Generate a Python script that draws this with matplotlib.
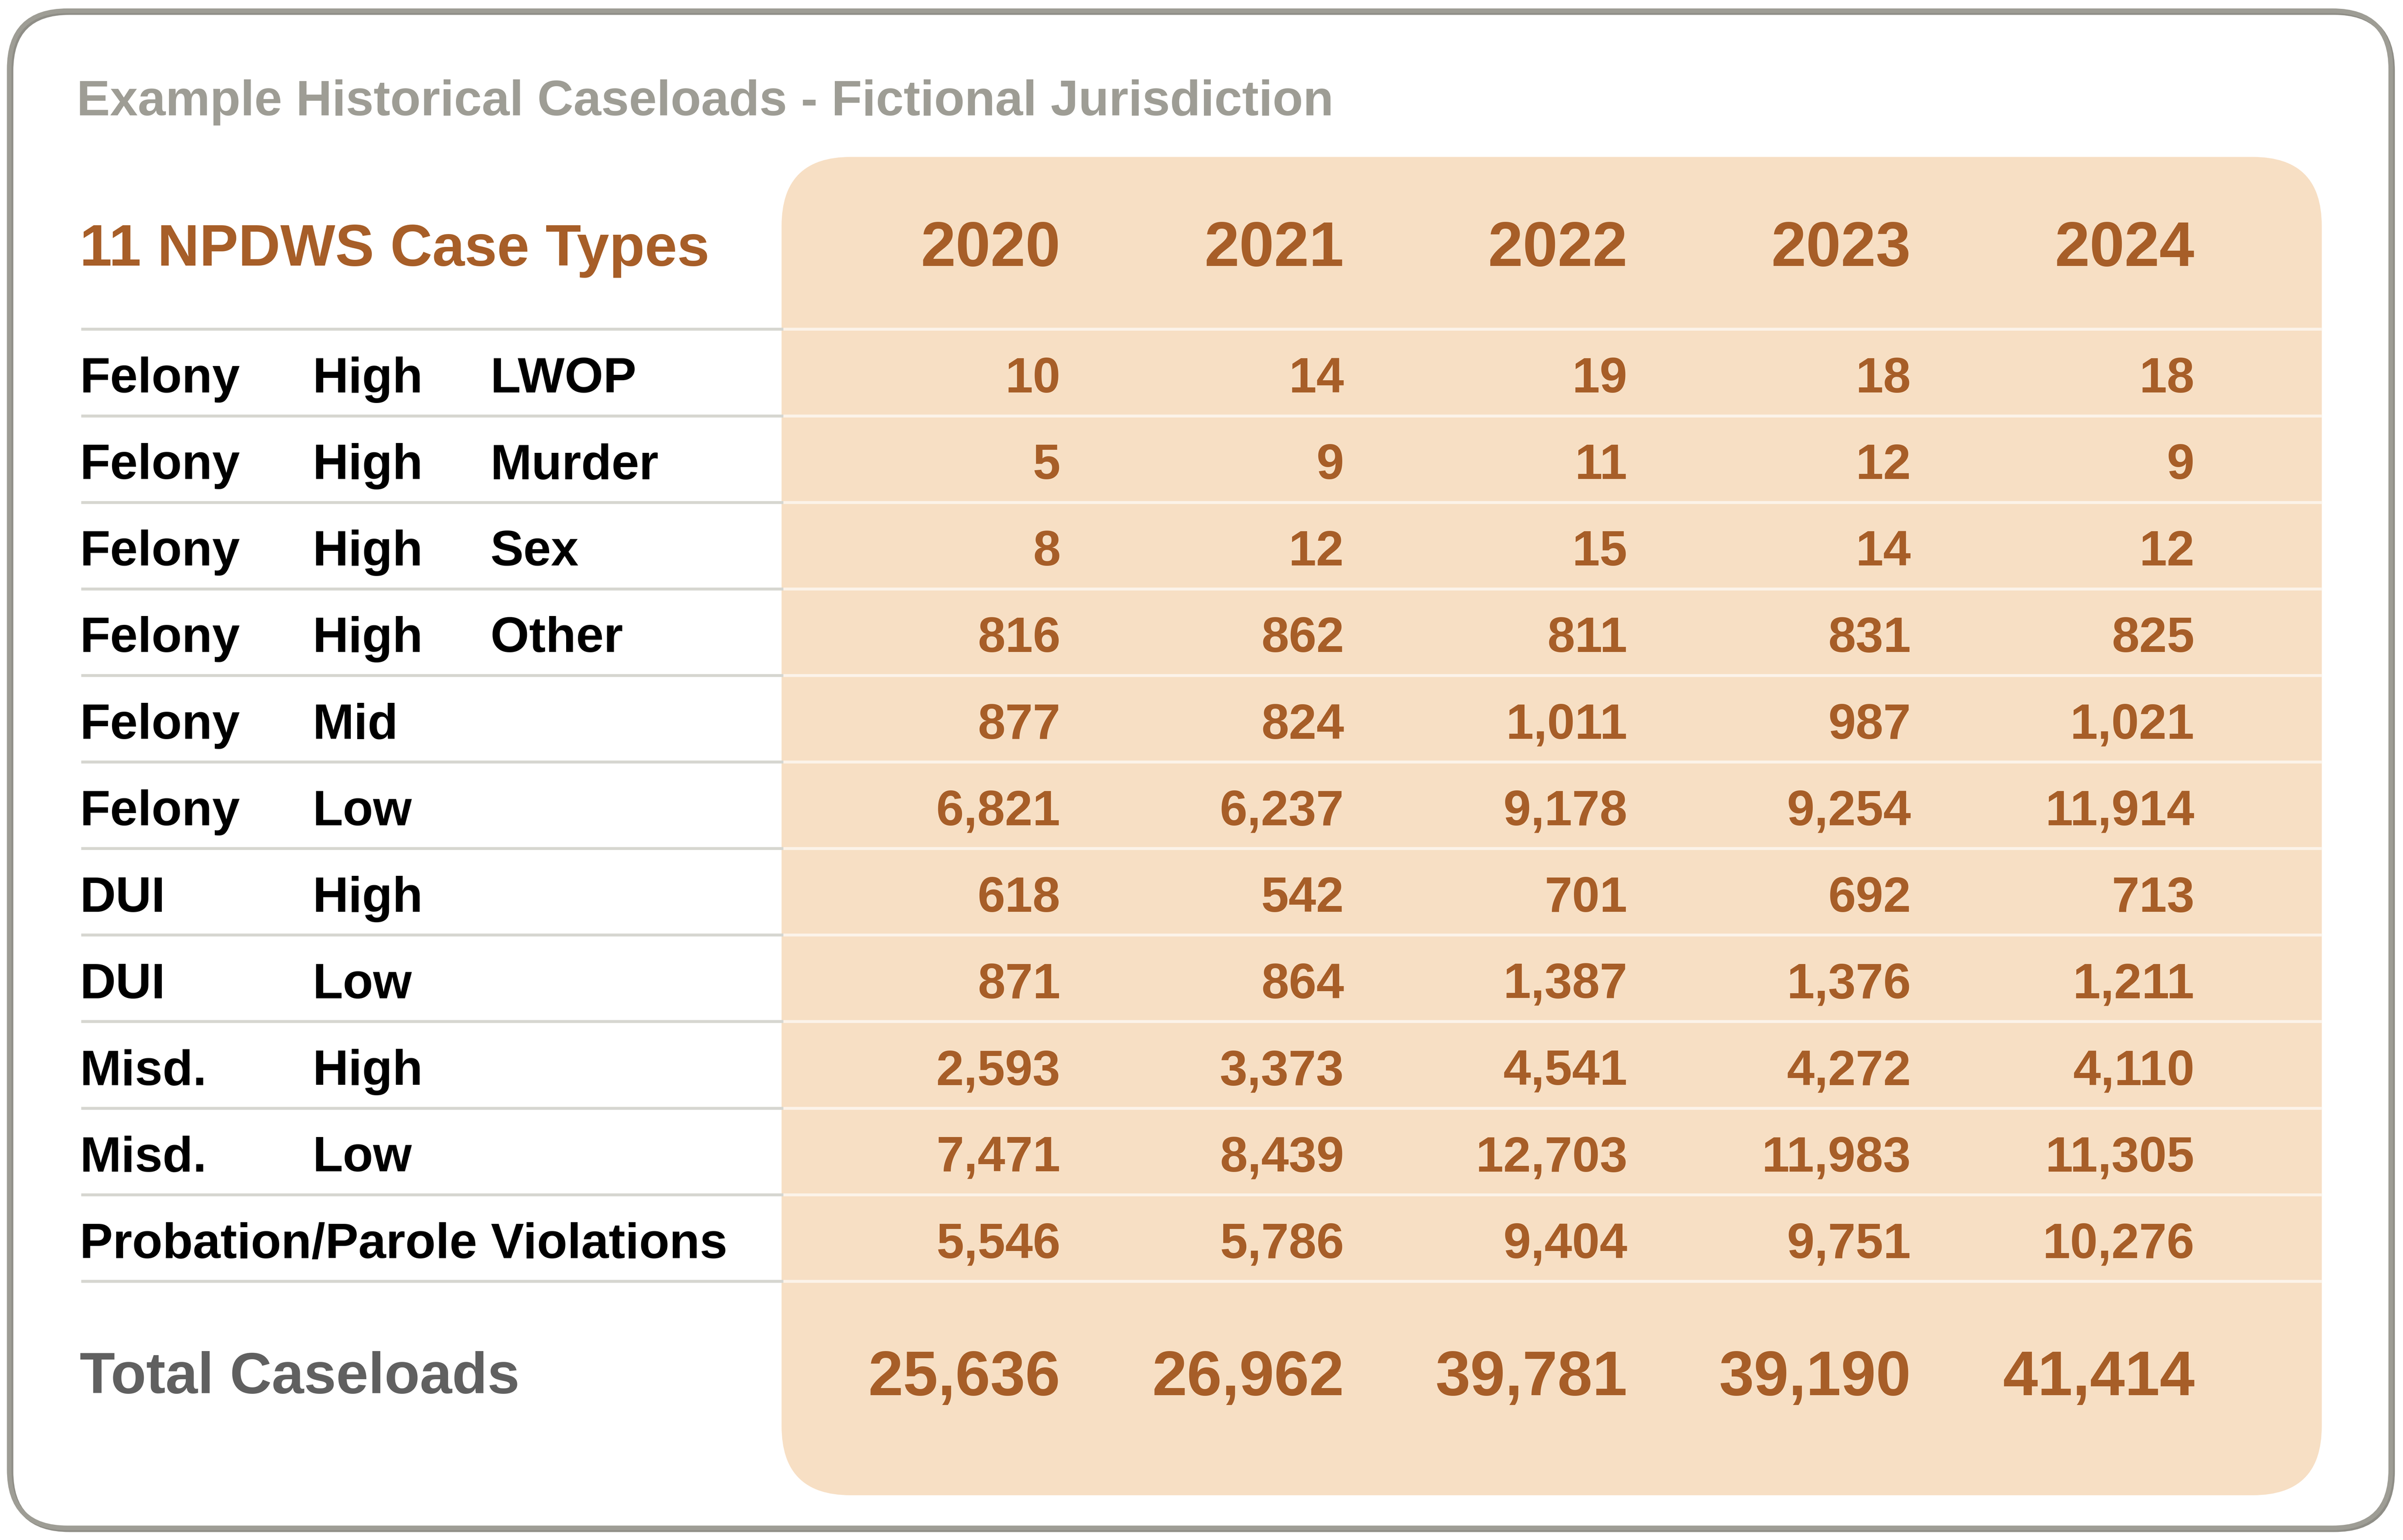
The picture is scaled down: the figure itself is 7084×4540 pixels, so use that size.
import matplotlib
matplotlib.use("Agg")
import matplotlib.pyplot as plt
from matplotlib.patches import FancyBboxPatch

plt.rcParams['font.family'] = ['Liberation Sans', 'DejaVu Sans']

# 데이터
years = ['2020', '2021', '2022', '2023', '2024']
case_group = ['Felony', 'Felony', 'Felony', 'Felony', 'Felony', 'Felony',
              'DUI', 'DUI', 'Misd.', 'Misd.', 'Probation/Parole Violations']
case_level = ['High', 'High', 'High', 'High', 'Mid', 'Low',
              'High', 'Low', 'High', 'Low', '']
case_sub = ['LWOP', 'Murder', 'Sex', 'Other', '', '', '', '', '', '', '']
cases_2020 = [10, 5, 8, 816, 877, 6821, 618, 871, 2593, 7471, 5546]
cases_2021 = [14, 9, 12, 862, 824, 6237, 542, 864, 3373, 8439, 5786]
cases_2022 = [19, 11, 15, 811, 1011, 9178, 701, 1387, 4541, 12703, 9404]
cases_2023 = [18, 12, 14, 831, 987, 9254, 692, 1376, 4272, 11983, 9751]
cases_2024 = [18, 9, 12, 825, 1021, 11914, 713, 1211, 4110, 11305, 10276]
totals = [25636, 26962, 39781, 39190, 41414]
columns = [cases_2020, cases_2021, cases_2022, cases_2023, cases_2024]

# 색상
BROWN = '#a75e28'
PEACH = '#f7dfc4'
BORDER = '#9e9d95'

# 화면 좌표 (참조 이미지 기준 1568 폭)
W_PX, H_PX, DPI = 7084, 4540, 400
S = W_PX / 1568.0
W, H = 1568.0, H_PX / S


def fs(px):
    """참조 이미지 픽셀 크기 -> 포인트"""
    return px * S * 72 / DPI


fig = plt.figure(figsize=(W_PX / DPI, H_PX / DPI), dpi=DPI)
ax = fig.add_axes([0, 0, 1, 1])
ax.set_xlim(0, W)
ax.set_ylim(H, 0)
ax.axis('off')

# 외곽 테두리 (그림자 포함)
for off, col in [(1.2, '#8f8e87'), (0, BORDER)]:
    ax.add_patch(FancyBboxPatch((6 + off, 7 + off), 1554, 990,
                                boxstyle='round,pad=0,rounding_size=38',
                                facecolor='none', edgecolor=col,
                                linewidth=fs(3)))

# 연도 패널
ax.add_patch(FancyBboxPatch((510, 102.4), 1005, 873.3,
                            boxstyle='round,pad=0,rounding_size=45',
                            facecolor=PEACH, edgecolor='none'))

ax.text(50, 75.2, 'Example Historical Caseloads - Fictional Jurisdiction',
        fontsize=fs(32.6), fontweight='bold', color=BORDER, va='baseline', ha='left')
ax.text(52, 173.4, '11 NPDWS Case Types', fontsize=fs(38), fontweight='bold',
        color=BROWN, va='baseline', ha='left')

col_right = [692, 877, 1062, 1247, 1432]
for x, yr in zip(col_right, years):
    ax.text(x, 173.6, yr, fontsize=fs(41), fontweight='bold', color=BROWN,
            va='baseline', ha='right')

# 구분선
line_top, step = 214.8, 56.47
for k in range(len(case_group) + 1):
    y = line_top + k * step
    ax.plot([53, 511], [y, y], color='#d6d6d0', linewidth=fs(1.9), solid_capstyle='butt')
    ax.plot([511, 1515], [y, y], color='#fcf3e9', linewidth=fs(1.9), solid_capstyle='butt')

# 행 텍스트
for i in range(len(case_group)):
    base = line_top + i * step + 41.3
    ax.text(52, base, case_group[i], fontsize=fs(32.4), fontweight='bold',
            color='black', va='baseline', ha='left')
    ax.text(204, base, case_level[i], fontsize=fs(32.4), fontweight='bold',
            color='black', va='baseline', ha='left')
    ax.text(320, base, case_sub[i], fontsize=fs(32.4), fontweight='bold',
            color='black', va='baseline', ha='left')
    for x, col in zip(col_right, columns):
        ax.text(x, base, f'{col[i]:,}', fontsize=fs(32.4), fontweight='bold',
                color=BROWN, va='baseline', ha='right')

# 합계
ax.text(52, 909, 'Total Caseloads', fontsize=fs(37.8), fontweight='bold',
        color='#606060', va='baseline', ha='left')
for x, t in zip(col_right, totals):
    ax.text(x, 910.4, f'{t:,}', fontsize=fs(41), fontweight='bold', color=BROWN,
            va='baseline', ha='right')

plt.savefig('out.png', dpi=DPI, facecolor='white')
